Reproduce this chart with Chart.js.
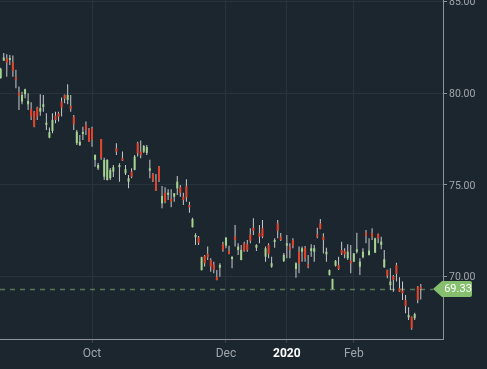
<!DOCTYPE html>
<html>
<head>
<meta charset="utf-8">
<script src="https://cdn.jsdelivr.net/npm/chart.js@4.4.1/dist/chart.umd.min.js"></script>
<style>
  html, body { margin: 0; padding: 0; background: #1c262e; }
  #wrap { width: 487px; height: 369px; }
</style>
</head>
<body>
<div id="wrap"><canvas id="chart" width="487" height="369"></canvas></div>
<script>
// daily candles, Aug 2019 -> Mar 2020 (x = trading day index)
const openPx = [80.84,81.78,81.91,81.82,81.70,80.89,80.04,79.55,79.95,79.40,
  79.15,79.00,79.22,79.00,79.26,78.28,77.58,77.94,78.78,78.91,
  79.55,79.91,79.64,79.31,78.73,77.28,77.18,77.78,78.27,78.00,
  78.09,76.37,75.91,77.50,75.45,75.27,75.37,75.73,77.00,75.97,
  76.46,75.64,75.18,75.73,75.82,77.28,76.82,76.82,76.75,75.78,
  75.60,75.24,76.00,74.00,74.58,74.46,74.24,74.36,74.82,74.88,
  74.36,74.94,73.91,72.70,72.15,72.15,70.36,71.13,71.24,70.91,
  70.67,70.00,70.49,71.77,71.69,71.40,70.96,72.18,71.46,70.91,
  71.82,71.77,72.31,72.67,71.58,72.37,72.64,71.09,71.73,70.55,
  71.89,72.91,72.18,70.86,71.69,71.64,72.00,70.42,71.36,71.36,
  71.58,70.67,71.40,71.36,72.31,72.91,72.18,71.22,70.09,69.33,
  70.60,70.64,71.46,71.40,71.00,70.87,70.82,71.36,70.54,71.06,
  72.40,71.18,72.37,71.31,72.33,71.73,70.51,70.36,69.54,70.04,
  70.64,69.37,69.24,68.73,67.78,67.82,67.73,69.45,69.45];
const highPx = [81.39,82.20,82.13,82.09,82.06,81.28,80.37,80.09,80.25,80.00,
  79.51,79.04,79.27,79.95,79.91,78.91,78.13,78.91,79.00,79.00,
  79.77,79.93,80.50,79.91,78.82,78.00,77.73,78.18,78.46,78.11,
  78.17,76.66,76.20,77.51,76.48,76.40,75.93,76.09,77.28,76.18,
  76.82,76.09,75.55,75.91,76.64,77.36,77.42,77.18,77.18,76.37,
  75.66,75.60,76.04,74.94,74.88,74.77,74.77,74.57,75.49,75.00,
  74.58,75.31,74.09,73.22,72.37,72.22,71.09,71.18,71.64,71.00,
  70.82,70.36,70.73,71.91,72.15,71.69,71.10,72.82,71.82,71.73,
  71.91,72.00,72.64,73.18,71.77,72.82,73.09,71.64,71.82,71.09,
  72.09,73.09,72.38,71.29,72.27,71.82,72.09,70.78,71.64,71.64,
  71.67,71.18,71.77,71.73,72.67,73.15,72.37,71.58,70.39,69.89,
  70.91,71.09,71.91,71.55,71.77,71.73,71.29,72.40,71.00,71.55,
  72.55,72.09,72.64,72.12,72.36,72.18,71.46,70.38,70.46,70.09,
  70.76,69.97,69.73,69.00,68.33,67.83,68.03,69.49,69.60];
const lowPx = [80.79,81.77,80.91,81.55,80.91,80.28,79.09,79.40,79.73,79.09,
  78.55,78.15,78.55,78.78,79.00,78.00,77.55,77.82,78.37,78.46,
  78.73,79.46,79.40,79.00,78.00,77.18,77.13,77.46,77.73,77.34,
  77.09,76.00,75.82,76.37,75.27,75.25,75.27,75.44,76.64,75.18,
  76.31,75.55,74.82,75.37,75.80,76.55,76.46,76.75,76.64,75.37,
  75.16,74.67,75.16,73.73,74.00,74.18,73.79,74.09,74.46,74.36,
  73.91,74.09,73.49,72.68,71.73,71.73,70.34,70.55,70.91,70.27,
  70.18,69.80,70.00,71.36,71.55,71.22,70.46,71.64,71.18,70.89,
  71.36,71.36,71.82,72.27,71.40,71.82,72.09,70.82,71.00,70.49,
  71.58,72.09,71.95,70.80,71.00,71.00,71.55,69.94,70.18,70.82,
  70.82,70.46,71.09,70.82,72.09,72.58,71.27,70.82,70.07,69.31,
  70.55,70.36,71.18,71.00,70.91,70.18,70.80,71.27,70.09,71.00,
  71.82,71.16,72.00,71.29,71.82,71.49,70.49,69.91,69.27,69.18,
  69.73,69.16,68.73,68.00,67.64,67.10,67.64,68.55,68.76];
const closePx = [81.33,81.95,81.66,81.93,81.22,80.75,79.87,79.91,80.22,79.58,
  78.73,78.18,78.73,79.19,79.40,78.40,77.88,78.55,78.55,78.73,
  79.22,79.70,79.91,79.15,78.31,77.91,77.36,77.89,78.00,77.36,
  77.46,76.64,76.09,76.46,76.37,76.37,75.82,75.97,76.82,76.09,
  76.33,75.86,75.37,75.45,76.55,76.73,76.64,77.13,77.07,75.91,
  75.24,74.69,75.27,74.40,74.09,74.58,74.09,74.55,75.18,74.58,
  74.18,74.33,73.78,73.15,72.27,71.85,71.06,70.73,71.06,70.55,
  70.36,69.82,70.64,71.46,72.13,71.24,71.09,72.00,71.64,71.46,
  71.40,71.46,71.95,72.49,71.73,72.18,72.18,71.55,71.22,70.73,
  72.00,72.49,72.00,71.18,71.82,71.46,71.69,70.73,70.73,71.55,
  71.00,70.55,71.55,71.55,72.18,72.60,72.00,71.36,70.36,69.87,
  70.86,70.42,71.27,71.22,71.36,70.73,71.27,71.49,70.82,71.36,
  72.22,71.42,72.18,72.09,72.09,71.91,70.95,70.04,69.73,69.82,
  70.15,69.18,69.09,68.40,67.91,67.18,67.96,68.73,69.33];

const lastPrice = 69.33;
const yTicks = [70, 75, 80, 85];
const monthTicks = [30, 74, 94, 116];
const monthLabels = ['Oct', 'Dec', '2020', 'Feb'];

const UP = '#a5d48e';
const DOWN = '#e4432a';
const WICK = '#c9cbcd';
const GRID = '#28343d';
const AXIS = '#8e9397';
const TAG = '#86c06f';

const bodies = openPx.map((o, i) => ({ x: i, y: [o, closePx[i]] }));
const wicks = highPx.map((h, i) => ({ x: i, y: [lowPx[i], h] }));
const bodyColors = openPx.map((o, i) => closePx[i] >= o ? UP : DOWN);

// dashed last-price line under the candles + price tag on the axis
const priceLine = {
  id: 'priceLine',
  beforeDatasetsDraw(chart) {
    const ctx = chart.ctx;
    const y = Math.round(chart.scales.y.getPixelForValue(lastPrice)) + 0.5;
    const area = chart.chartArea;
    ctx.save();
    ctx.strokeStyle = 'rgba(126,176,112,0.6)';
    ctx.lineWidth = 1.5;
    ctx.setLineDash([5, 5]);
    ctx.beginPath();
    ctx.moveTo(area.left, y);
    ctx.lineTo(area.right - 10, y);
    ctx.stroke();
    ctx.restore();
  },
  afterDraw(chart) {
    const ctx = chart.ctx;
    const y = chart.scales.y.getPixelForValue(lastPrice);
    const r = chart.chartArea.right;
    const tip = r - 10, bl = r - 1, br = r + 29, h = 8;
    ctx.save();
    ctx.fillStyle = TAG;
    ctx.beginPath();
    ctx.moveTo(tip, y);
    ctx.lineTo(bl, y - h);
    ctx.lineTo(br - 2, y - h);
    ctx.quadraticCurveTo(br, y - h, br, y - h + 2);
    ctx.lineTo(br, y + h - 2);
    ctx.quadraticCurveTo(br, y + h, br - 2, y + h);
    ctx.lineTo(bl, y + h);
    ctx.closePath();
    ctx.fill();
    ctx.fillStyle = '#ffffff';
    ctx.font = '11px Roboto';
    ctx.textAlign = 'center';
    ctx.textBaseline = 'middle';
    ctx.fillText(lastPrice.toFixed(2), (bl + br) / 2 + 1, y + 0.5);
    ctx.restore();
  }
};

new Chart(document.getElementById('chart'), {
  type: 'bar',
  data: {
    datasets: [
      {
        data: bodies,
        backgroundColor: bodyColors,
        barThickness: 2,
        grouped: false,
        inflateAmount: 0,
        minBarLength: 1,
        order: 0
      },
      {
        data: wicks,
        backgroundColor: WICK,
        barThickness: 1,
        grouped: false,
        inflateAmount: 0,
        order: 1
      }
    ]
  },
  options: {
    responsive: false,
    animation: false,
    layout: { padding: 0 },
    plugins: { legend: { display: false }, tooltip: { enabled: false } },
    scales: {
      x: {
        type: 'linear',
        offset: false,
        min: -0.23,
        max: 145.3,
        afterBuildTicks: s => { s.ticks = monthTicks.map(v => ({ value: v })); },
        afterFit: s => { s.height = 30; s.paddingLeft = 0; s.paddingRight = 0; },
        grid: { offset: false, color: GRID, tickLength: 4, tickColor: '#3b4650' },
        border: { display: true, color: AXIS, width: 1 },
        ticks: {
          autoSkip: false,
          maxRotation: 0,
          padding: 4,
          callback: v => monthLabels[monthTicks.indexOf(v)],
          color: c => (c.tick && c.tick.label === '2020') ? '#ffffff' : '#a0a5a9',
          font: c => ({ family: 'Roboto', size: 12, weight: (c.tick && c.tick.label === '2020') ? 'bold' : 'normal' })
        }
      },
      y: {
        position: 'right',
        min: 66.6,
        max: 85.09,
        afterBuildTicks: s => { s.ticks = yTicks.map(v => ({ value: v })); },
        afterFit: s => { s.width = 44; s.paddingTop = 0; s.paddingBottom = 0; },
        grid: { color: GRID, tickLength: 4, tickColor: AXIS },
        border: { display: true, color: AXIS, width: 1 },
        ticks: {
          padding: 2,
          labelOffset: 1,
          color: '#a3a7ab',
          font: { family: 'Roboto', size: 10.5 },
          callback: v => v.toFixed(2)
        }
      }
    }
  },
  plugins: [priceLine]
});
</script>
</body>
</html>
